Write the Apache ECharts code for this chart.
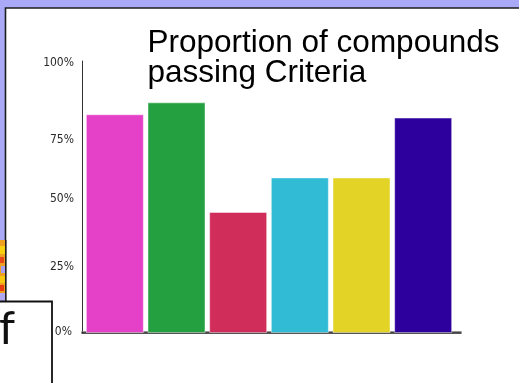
<!DOCTYPE html>
<html>
<head>
<meta charset="utf-8">
<script src="https://cdn.jsdelivr.net/npm/echarts@6/dist/echarts.min.js"></script>
<style>
  html, body { margin: 0; padding: 0; background: #a9a9f7; }
  #chart { width: 519px; height: 383px; }
</style>
</head>
<body>
<div id="chart"></div>
<script>
// Share of compounds meeting each criterion (percent)
const categories = ['Criterion 1', 'Criterion 2', 'Criterion 3', 'Criterion 4', 'Criterion 5', 'Criterion 6'];
const passRates = [80.4, 84.8, 44.5, 57.2, 57.2, 79.2];
const barColors = ['#e540c8', '#25a040', '#d12d5b', '#31bbd5', '#e3d327', '#2d009e'];
const tickValues = [0, 25, 50, 75, 100];
const titleText = 'Proportion of compounds\npassing Criteria';

const chart = echarts.init(document.getElementById('chart'), null, { renderer: 'canvas' });

const labelFont = '"DejaVu Sans Condensed", "Liberation Sans Narrow", sans-serif';
const labelSize = 12;

chart.setOption({
  backgroundColor: '#a9a9f7',
  animation: false,
  title: {
    text: titleText,
    left: 147.5,
    top: 28,
    padding: 0,
    textStyle: {
      fontFamily: '"Liberation Sans", Arial, sans-serif',
      fontWeight: 'normal',
      fontSize: 31.5,
      lineHeight: 30,
      color: '#000'
    }
  },
  grid: [
    // bars
    { left: 84, right: 65, top: 61, bottom: 50 },
    // axis frame
    { left: 82, right: 58, top: 61, bottom: 50 }
  ],
  xAxis: [
    {
      type: 'category', gridIndex: 0, data: categories,
      axisLine: { show: false }, axisTick: { show: false }, axisLabel: { show: false }
    },
    {
      type: 'category', gridIndex: 1, data: categories,
      axisLine: {
        show: true,
        lineStyle: { color: '#1c1c1c', width: 1.5, shadowColor: 'rgba(120,120,120,0.8)', shadowOffsetY: -1.2 }
      },
      axisTick: { show: false }, axisLabel: { show: false }
    }
  ],
  yAxis: [
    {
      type: 'value', gridIndex: 0, min: 0, max: 100, interval: 25,
      axisLine: { show: false }, axisTick: { show: false }, axisLabel: { show: false }, splitLine: { show: false }
    },
    {
      type: 'value', gridIndex: 1, min: 0, max: 100, interval: 25,
      axisLine: { show: true, onZero: false, lineStyle: { color: '#333', width: 1 } },
      axisTick: { show: false },
      splitLine: { show: false },
      axisLabel: {
        margin: 8,
        formatter: function (v) {
          if (tickValues.indexOf(v) < 0) return '';
          if (v === 0) return '{z|0%}';
          if (v === 75) return '{t|75%}';
          return '{n|' + v + '%}';
        },
        rich: {
          n: { fontFamily: labelFont, fontSize: labelSize, color: '#2a2a2a', padding: [3, 0, 0, 0] },
          z: { fontFamily: labelFont, fontSize: labelSize, color: '#2a2a2a', padding: [0, 2, 3, 0] },
          t: { fontFamily: labelFont, fontSize: labelSize, color: '#2a2a2a', padding: [22, 0, 0, 0] }
        }
      }
    }
  ],
  series: [
    {
      type: 'bar',
      xAxisIndex: 0,
      yAxisIndex: 0,
      barWidth: 58,
      data: passRates.map(function (v, i) {
        return {
          value: v,
          itemStyle: { color: barColors[i], borderColor: 'rgba(255,255,255,0.45)', borderWidth: 1 }
        };
      })
    },
    {
      type: 'bar', xAxisIndex: 1, yAxisIndex: 1, data: [], silent: true
    }
  ],
  graphic: [
    // white slide panel
    {
      type: 'rect', z: -10,
      shape: { x: 5.5, y: 8, width: 600, height: 500 },
      style: { fill: '#ffffff', stroke: '#1e1e1e', lineWidth: 1.6 }
    },
    // patterned picture edge at left
    { type: 'rect', z: -9, shape: { x: 0, y: 240, width: 5, height: 62 }, style: { fill: '#f0a020' } },
    { type: 'rect', z: -9, shape: { x: 0, y: 246, width: 5, height: 8 }, style: { fill: '#f7d010' } },
    { type: 'rect', z: -9, shape: { x: 0, y: 257, width: 4, height: 6 }, style: { fill: '#e84818' } },
    { type: 'rect', z: -9, shape: { x: 1, y: 266, width: 4, height: 7 }, style: { fill: '#a8a0f0' } },
    { type: 'rect', z: -9, shape: { x: 0, y: 276, width: 5, height: 7 }, style: { fill: '#f8c810' } },
    { type: 'rect', z: -9, shape: { x: 0, y: 285, width: 4, height: 6 }, style: { fill: '#e83c10' } },
    { type: 'rect', z: -9, shape: { x: 0, y: 293, width: 5, height: 8 }, style: { fill: '#b0a8f0' } },
    { type: 'rect', z: -9, shape: { x: 5, y: 240, width: 1.5, height: 62 }, style: { fill: '#1e1e1e' } },
    // text box at lower left
    {
      type: 'rect', z: 50,
      shape: { x: -4, y: 301.5, width: 56, height: 100 },
      style: { fill: '#ffffff', stroke: '#111', lineWidth: 1.8 }
    },
    {
      type: 'text', z: 51, left: -1, top: 306,
      style: { text: 'f', font: '46px Lato, "Open Sans", sans-serif', fill: '#111' }
    }
  ]
});
</script>
</body>
</html>
